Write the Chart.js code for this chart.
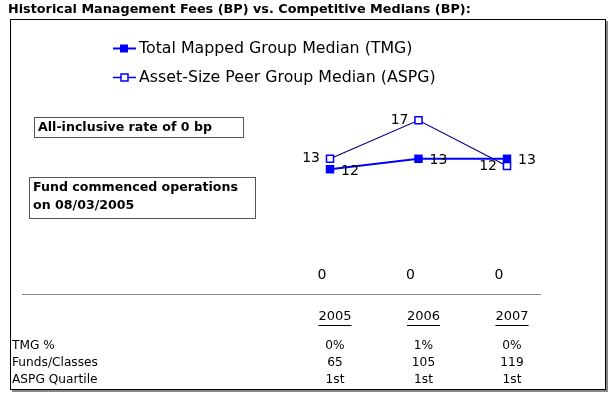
<!DOCTYPE html>
<html>
<head>
<meta charset="utf-8">
<script src="https://cdn.jsdelivr.net/npm/chart.js@4.4.1/dist/chart.umd.min.js"></script>
<style>
  html, body { margin: 0; padding: 0; background: #fff; }
  #wrap { position: relative; width: 616px; height: 401px; }
  canvas { display: block; }
</style>
</head>
<body>
<div id="wrap"><canvas id="c" width="616" height="401"></canvas></div>
<script>
// ---- data ----
const years = ['2005', '2006', '2007'];
const tmgMedian = [12.0, 13.0, 13.0];
const aspgMedian = [13.0, 16.7, 12.3];
const fundFee = [0, 0, 0];
const tmgPct = ['0%', '1%', '0%'];
const fundsClasses = ['65', '105', '119'];
const aspgQuartile = ['1st', '1st', '1st'];
const rowLabels = ['TMG %', 'Funds/Classes', 'ASPG Quartile'];
const titleText = 'Historical Management Fees (BP) vs. Competitive Medians (BP):';
const legendLabels = ['Total Mapped Group Median (TMG)', 'Asset-Size Peer Group Median (ASPG)'];
const note1 = 'All-inclusive rate of 0 bp';
const note2 = ['Fund commenced operations', 'on 08/03/2005'];

const FONT = '"DejaVu Sans", Verdana, sans-serif';
const BLUE = '#0000ff';
const NAVY = '#000080';

const decor = {
  id: 'decor',
  beforeDraw(chart) {
    const ctx = chart.ctx;
    ctx.save();
    ctx.fillStyle = '#fff';
    ctx.fillRect(0, 0, chart.width, chart.height);
    // frame with shadow
    ctx.fillStyle = '#888';
    ctx.fillRect(606, 21, 2, 371);
    ctx.fillRect(12, 390, 596, 2);
    ctx.strokeStyle = '#000';
    ctx.lineWidth = 1;
    ctx.strokeRect(10.5, 19.5, 595, 370);
    ctx.restore();
  },
  afterDraw(chart) {
    const ctx = chart.ctx;
    const xs = chart.scales.x;
    const ys = chart.scales.y;
    ctx.save();
    ctx.textBaseline = 'middle';
    // title
    ctx.fillStyle = '#000';
    ctx.font = 'bold 12.8px ' + FONT;
    ctx.textAlign = 'left';
    ctx.fillText(titleText, 8, 10);

    // legend
    const legY = [48, 77];
    ctx.font = '15.8px ' + FONT;
    legY.forEach((y, i) => {
      ctx.strokeStyle = BLUE;
      ctx.lineWidth = i === 0 ? 2 : 1.5;
      ctx.beginPath();
      ctx.moveTo(113, y + 0.5);
      ctx.lineTo(136, y + 0.5);
      ctx.stroke();
      if (i === 0) {
        ctx.fillStyle = BLUE;
        ctx.fillRect(120, y - 3.5, 8, 8);
      } else {
        ctx.fillStyle = '#fff';
        ctx.fillRect(121, y - 3, 7, 7);
        ctx.strokeStyle = BLUE;
        ctx.lineWidth = 1.5;
        ctx.strokeRect(121, y - 3, 7, 7);
      }
      ctx.fillStyle = '#000';
      ctx.fillText(legendLabels[i], 139, y + 1);
    });

    // note boxes
    ctx.strokeStyle = '#555';
    ctx.lineWidth = 1;
    ctx.strokeRect(34.5, 117.5, 209, 20);
    ctx.strokeRect(29.5, 177.5, 226, 41);
    ctx.fillStyle = '#000';
    ctx.font = 'bold 12.6px ' + FONT;
    ctx.fillText(note1, 38, 128);
    ctx.fillText(note2[0], 33, 188);
    ctx.fillText(note2[1], 33, 206);

    // separator line
    ctx.strokeStyle = '#888';
    ctx.lineWidth = 1;
    ctx.beginPath();
    ctx.moveTo(22, ys.getPixelForValue(0) + 0.5);
    ctx.lineTo(541, ys.getPixelForValue(0) + 0.5);
    ctx.stroke();

    // data labels
    ctx.font = '14px ' + FONT;
    ctx.fillStyle = '#000';
    years.forEach((yr, i) => {
      const x = xs.getPixelForValue(i);
      ctx.textAlign = 'center';
      ctx.fillText(String(Math.round(fundFee[i])), x - 8, ys.getPixelForValue(fundFee[i]) - 19);
      ctx.textAlign = 'left';
      ctx.fillText(String(Math.round(tmgMedian[i])), x + 11, ys.getPixelForValue(tmgMedian[i]) + 2);
      ctx.textAlign = 'right';
      ctx.fillText(String(Math.round(aspgMedian[i])), x - 10, ys.getPixelForValue(aspgMedian[i]));
    });

    // table
    ctx.font = '12.2px ' + FONT;
    ctx.textAlign = 'center';
    years.forEach((yr, i) => {
      const x = xs.getPixelForValue(i) + 5;
      ctx.font = '13px ' + FONT;
      ctx.fillText(yr, x, 317);
      const w = ctx.measureText(yr).width;
      ctx.strokeStyle = '#000';
      ctx.lineWidth = 1;
      ctx.beginPath();
      ctx.moveTo(x - w / 2, 325.5);
      ctx.lineTo(x + w / 2, 325.5);
      ctx.stroke();
      ctx.font = '12.2px ' + FONT;
      ctx.fillText(tmgPct[i], x, 346);
      ctx.fillText(fundsClasses[i], x, 363);
      ctx.fillText(aspgQuartile[i], x, 380);
    });
    ctx.textAlign = 'left';
    rowLabels.forEach((lab, r) => {
      ctx.fillText(lab, 12, [346, 363, 380][r]);
    });
    ctx.restore();
  }
};

new Chart(document.getElementById('c'), {
  type: 'line',
  data: {
    labels: years,
    datasets: [
      {
        label: legendLabels[0],
        data: tmgMedian,
        borderColor: BLUE,
        backgroundColor: BLUE,
        borderWidth: 2,
        pointStyle: 'rect',
        pointRadius: 6,
        pointBorderWidth: 0,
        pointBackgroundColor: BLUE,
        clip: false,
        order: 1
      },
      {
        label: legendLabels[1],
        data: aspgMedian,
        borderColor: NAVY,
        backgroundColor: '#fff',
        borderWidth: 1.2,
        pointStyle: 'rect',
        pointRadius: 5,
        pointBorderWidth: 1.5,
        pointBorderColor: BLUE,
        pointBackgroundColor: '#fff',
        clip: false,
        order: 2
      },
      {
        label: 'Fund',
        data: fundFee,
        showLine: false,
        pointRadius: 0,
        borderColor: 'rgba(0,0,0,0)',
        clip: false
      }
    ]
  },
  options: {
    responsive: false,
    animation: false,
    layout: { padding: { left: 330, right: 109, top: 86, bottom: 107 } },
    scales: {
      x: { display: false, offset: false },
      y: { display: false, min: 0, max: 20 }
    },
    plugins: {
      legend: { display: false },
      title: { display: false },
      tooltip: { enabled: false }
    }
  },
  plugins: [decor]
});
</script>
</body>
</html>
